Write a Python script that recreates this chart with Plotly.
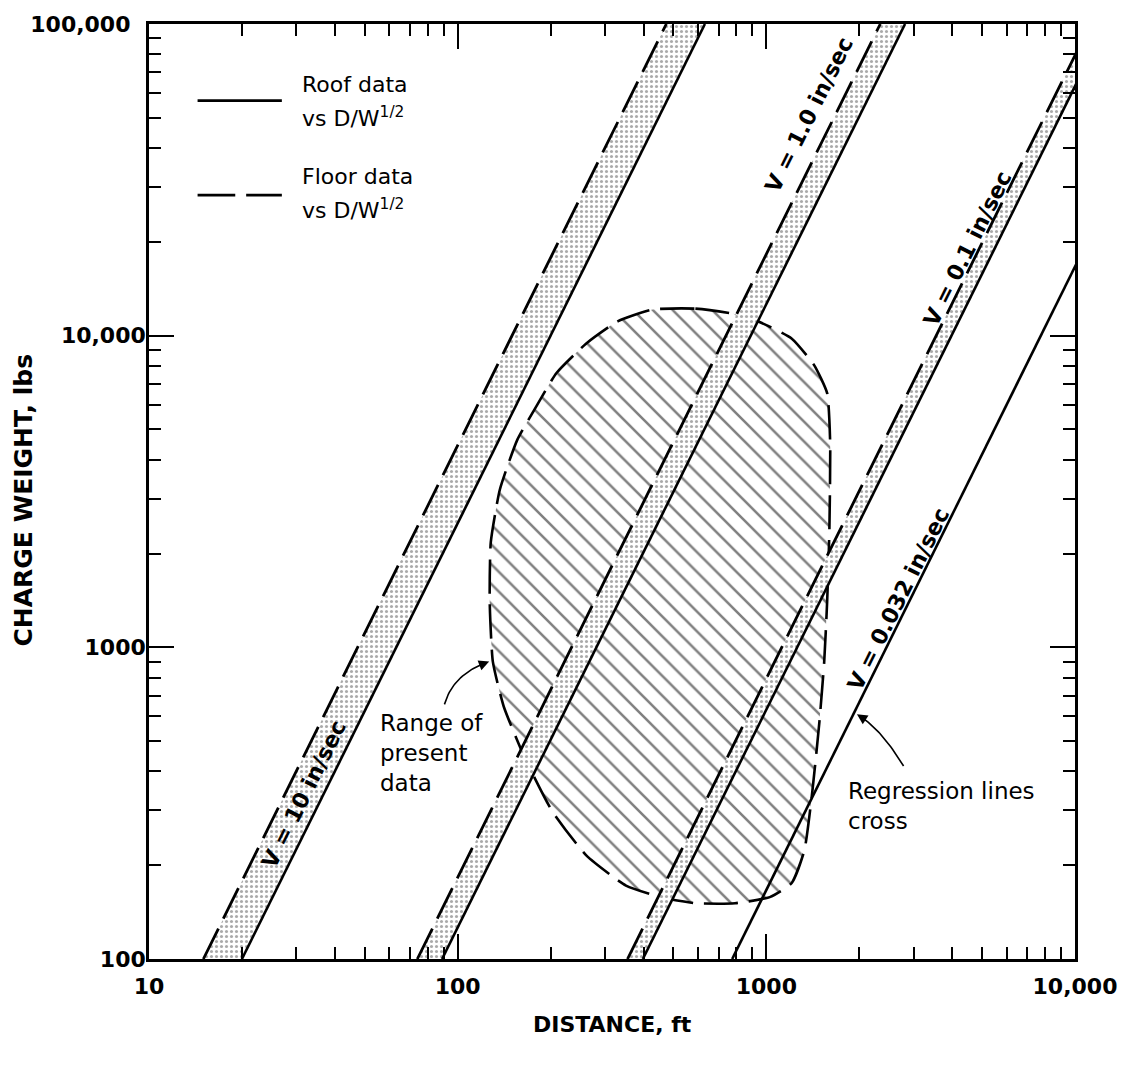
import numpy as np
import plotly.graph_objects as go

# Constant-velocity regression lines, given as scaled distance D / W^(1/2)
velocity_labels = ["V = 10 in/sec", "V = 1.0 in/sec", "V = 0.1 in/sec", "V = 0.032 in/sec"]
floor_sd = [1.5, 7.4, 35.5, None]   # floor data vs D/W^1/2 (dashed); at 0.032 in/sec the lines cross
roof_sd = [2.0, 8.9, 39.8, 77.5]    # roof data vs D/W^1/2 (solid)
weight_span = [100, 100000]         # charge weights the lines run across, lbs

# Outline of the range of present data
range_dist = [429, 589, 774, 938, 1207, 1430, 1574, 1610, 1600, 1574, 1540, 1486, 1410,
              1328, 1207, 1026, 792, 589, 455, 351, 261, 202, 164, 141, 130, 127, 128,
              137, 156, 180, 209, 261, 330]
range_weight = [12130, 12210, 11780, 11120, 9800, 8030, 6540, 4530, 2340, 1400, 900, 578, 346,
                223, 175, 158, 151, 151, 158, 172, 215, 299, 448, 646, 900, 1400, 2170,
                3210, 4630, 5940, 7590, 9440, 11120]

# Centres of the velocity labels (distance, weight)
label_dist = [31.7, 1377, 4500, 2683]
label_weight = [338, 51240, 19000, 1419]

# Callout text and curved leader arrows: start, bend, tip (distance, weight)
callouts = ["Range of<br>present<br>data", "Regression lines<br>cross"]
callout_dist = [55.2, 1811]
callout_weight = [457, 310]
arrow_dist = [[90.6, 96.8, 126.5], [2784, 2348, 1966]]
arrow_weight = [[656, 824, 900], [416, 550, 610]]

x_ticks = [10, 100, 1000, 10000]
x_tick_text = ["10", "100", "1000", "10,000"]
y_ticks = [100, 1000, 10000, 100000]
y_tick_text = ["100", "1000", "10,000", "100,000\u00a0\u00a0"]

W, H = 1129, 1067
ML, MR, MT, MB = 149, 46, 19, 108
PW, PH = W - ML - MR, H - MT - MB
FONT = "DejaVu Sans"
DASH = "34px,11px"

fig = go.Figure()

# Hatched range of present data
fig.add_trace(go.Scatter(
    x=range_dist + [range_dist[0]], y=range_weight + [range_weight[0]],
    mode="lines", fill="toself", fillcolor="black",
    fillpattern=dict(shape="\\", size=14, solidity=0.18, fgcolor="black", bgcolor="white"),
    line=dict(color="black", width=2.6, dash=DASH, shape="spline", smoothing=0.5),
    hoverinfo="skip", showlegend=False))

# Stippled bands between floor and roof lines
for f, r in zip(floor_sd, roof_sd):
    if f is None:
        continue
    d = [f * np.sqrt(weight_span[0]), f * np.sqrt(weight_span[1]),
         r * np.sqrt(weight_span[1]), r * np.sqrt(weight_span[0])]
    w = [weight_span[0], weight_span[1], weight_span[1], weight_span[0]]
    fig.add_trace(go.Scatter(
        x=d, y=w, mode="lines", fill="toself", fillcolor="#555",
        fillpattern=dict(shape=".", size=5, solidity=0.3, fgcolor="#555", bgcolor="white"),
        line=dict(width=0), hoverinfo="skip", showlegend=False))

# Regression lines
ws = np.array(weight_span, dtype=float)
for f, r in zip(floor_sd, roof_sd):
    if f is not None:
        fig.add_trace(go.Scatter(x=f * np.sqrt(ws), y=ws, mode="lines",
                                 line=dict(color="black", width=2.8, dash=DASH),
                                 hoverinfo="skip", showlegend=False))
    fig.add_trace(go.Scatter(x=r * np.sqrt(ws), y=ws, mode="lines",
                             line=dict(color="black", width=2.6),
                             hoverinfo="skip", showlegend=False))

# Text angle of a line with W proportional to D^2
decade_x = PW / 3.0
decade_y = PH / 3.0
line_angle = np.degrees(np.arctan(2 * decade_y / decade_x))

annotations = []
for txt, d, w in zip(velocity_labels, label_dist, label_weight):
    annotations.append(dict(
        x=np.log10(d), y=np.log10(w), xref="x", yref="y", text=txt, showarrow=False,
        textangle=-line_angle, font=dict(family=FONT, size=22, color="black", weight="bold")))

for txt, d, w in zip(callouts, callout_dist, callout_weight):
    annotations.append(dict(
        x=np.log10(d), y=np.log10(w), xref="x", yref="y", text=txt, showarrow=False,
        xanchor="left", yanchor="middle", align="left",
        font=dict(family=FONT, size=23, color="black")))

# Curved leaders (quadratic Bezier in log space) with arrowheads
t = np.linspace(0, 1, 30)
for ad, aw in zip(arrow_dist, arrow_weight):
    lx = np.log10(ad)
    ly = np.log10(aw)
    bx = (1 - t) ** 2 * lx[0] + 2 * (1 - t) * t * lx[1] + t ** 2 * lx[2]
    by = (1 - t) ** 2 * ly[0] + 2 * (1 - t) * t * ly[1] + t ** 2 * ly[2]
    fig.add_trace(go.Scatter(x=10 ** bx[:-3], y=10 ** by[:-3], mode="lines",
                             line=dict(color="black", width=1.6),
                             hoverinfo="skip", showlegend=False))
    annotations.append(dict(
        x=bx[-1], y=by[-1], ax=bx[-5], ay=by[-5], xref="x", yref="y", axref="x", ayref="y",
        text="", showarrow=True, arrowhead=2, arrowsize=1.3, arrowwidth=1.6, arrowcolor="black"))


# Legend drawn in paper space
def px_x(p):
    return (p - ML) / PW


def px_y(p):
    return (H - MB - p) / PH


shapes = [
    dict(type="line", xref="paper", yref="paper", x0=px_x(198), x1=px_x(283),
         y0=px_y(96), y1=px_y(96), line=dict(color="black", width=2.8)),
    dict(type="line", xref="paper", yref="paper", x0=px_x(198), x1=px_x(236),
         y0=px_y(191), y1=px_y(191), line=dict(color="black", width=2.8)),
    dict(type="line", xref="paper", yref="paper", x0=px_x(247), x1=px_x(283),
         y0=px_y(191), y1=px_y(191), line=dict(color="black", width=2.8)),
]
for txt, yy in [("Roof data", 80), ("vs D/W<sup>1/2</sup>", 113),
                ("Floor data", 172), ("vs D/W<sup>1/2</sup>", 205)]:
    annotations.append(dict(
        x=px_x(301), y=px_y(yy), xref="paper", yref="paper", text=txt, showarrow=False,
        xanchor="left", yanchor="middle", font=dict(family=FONT, size=22, color="black")))

# Axis titles
annotations.append(dict(x=px_x(22), y=px_y(498), xref="paper", yref="paper",
                        xanchor="center", yanchor="middle",
                        text="CHARGE WEIGHT, lbs", showarrow=False, textangle=-90,
                        font=dict(family=FONT, size=25, color="black", weight="bold")))
annotations.append(dict(x=px_x(617), y=px_y(1025), xref="paper", yref="paper",
                        xanchor="center", yanchor="middle",
                        text="DISTANCE, ft", showarrow=False,
                        font=dict(family=FONT, size=22, color="black", weight="bold")))

axis_common = dict(
    type="log", showgrid=False, zeroline=False, showline=True, linecolor="black", linewidth=2.6,
    mirror="ticks", ticks="inside", ticklen=25, tickwidth=1.6, tickcolor="black",
    minor=dict(ticks="inside", ticklen=12, tickwidth=1.6, tickcolor="black", dtick="D1",
               showgrid=False),
    tickfont=dict(family=FONT, size=22, color="black", weight="bold"),
)

fig.update_layout(
    width=W, height=H,
    margin=dict(l=ML, r=MR, t=MT, b=MB),
    paper_bgcolor="white", plot_bgcolor="white",
    xaxis=dict(range=[1, 4], tickvals=x_ticks, ticktext=x_tick_text, ticklabelstandoff=6,
               **axis_common),
    yaxis=dict(range=[2, 5], tickvals=y_ticks, ticktext=y_tick_text, ticklabelstandoff=-4,
               **axis_common),
    shapes=shapes, annotations=annotations, showlegend=False,
)

fig.write_html("out.html")
